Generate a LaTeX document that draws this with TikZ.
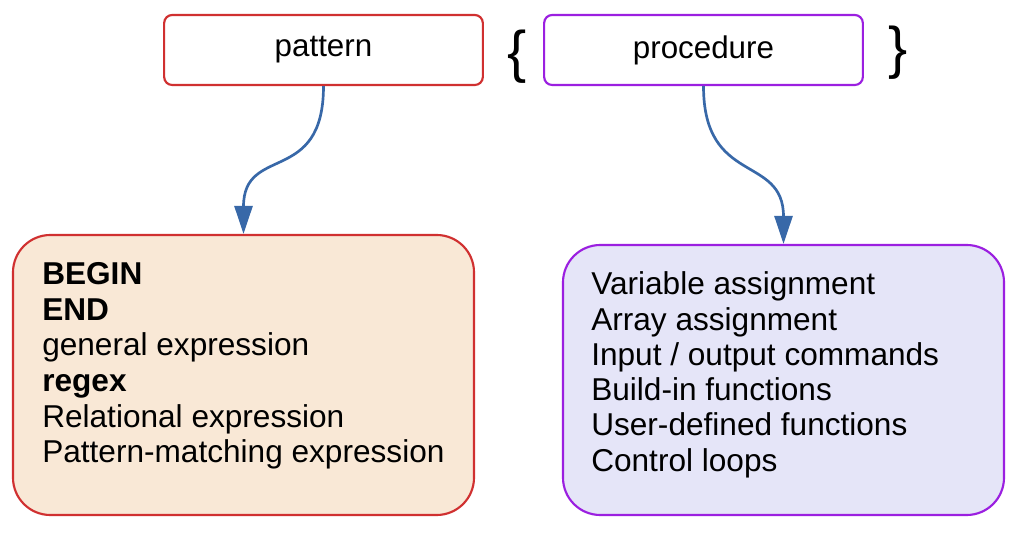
\documentclass[tikz,border=0pt]{standalone}
\usepackage{fontspec}
\setmainfont{Liberation Sans}
\usetikzlibrary{arrows.meta}
\definecolor{boxred}{HTML}{D03030}
\definecolor{boxpurple}{HTML}{9B1FE0}
\definecolor{peach}{HTML}{F9E8D6}
\definecolor{lavender}{HTML}{E5E5F8}
\definecolor{arrowblue}{HTML}{3868A8}
\tikzset{
  headbox/.style={draw,line width=1.6pt,rounded corners=6pt,fill=white,
    minimum width=239pt,minimum height=52.5pt,inner sep=0pt,
    font=\fontsize{23.5}{26}\selectfont},
  listbox/.style={draw,line width=1.6pt,rounded corners=28pt,inner sep=0pt},
  listline/.style={anchor=base west,inner sep=0pt,font=\fontsize{23.7}{27}\selectfont},
  brace/.style={inner sep=0pt,font=\fontsize{43}{45}\selectfont},
  flow/.style={arrowblue,line width=2pt,-{Triangle[length=21pt,width=13.5pt]}}
}
\begin{document}
\begin{tikzpicture}[x=0.75pt,y=-0.75pt]
  \useasboundingbox[fill=white] (0,0) rectangle (1028,534);

  % top row
  \node[headbox,draw=boxred] (pattern) at (323.5,50) {pattern};
  \node[headbox,draw=boxpurple] (procedure) at (703.5,50) {procedure};
  \node[brace] (lbrace) at (517,57) {\{};
  \node[brace] (rbrace) at (898,53) {\}};

  % lower boxes
  \node[listbox,draw=boxred,fill=peach,minimum width=345.75pt,minimum height=210pt] (patlist) at (243.5,375) {};
  \node[listbox,draw=boxpurple,fill=lavender,minimum width=330.75pt,minimum height=202.5pt] (proclist) at (783.5,380) {};

  \foreach \txt [count=\i] in {{\bfseries BEGIN},{\bfseries END},general expression,{\bfseries regex},Relational expression,Pattern-matching expression}
    \node[listline] (patline\i) at (42,{285+35.5*(\i-1)}) {\txt};

  \foreach \txt [count=\i] in {Variable assignment,Array assignment,Input / output commands,Build-in functions,User-defined functions,Control loops}
    \node[listline] (procline\i) at (591,{295+35.2*(\i-1)}) {\txt};

  % connectors
  \draw[flow] (pattern.south) .. controls +(0,100) and +(0,-90) .. (patlist.north);
  \draw[flow] (procedure.south) .. controls +(0,100) and +(0,-90) .. (proclist.north);
\end{tikzpicture}
\end{document}
